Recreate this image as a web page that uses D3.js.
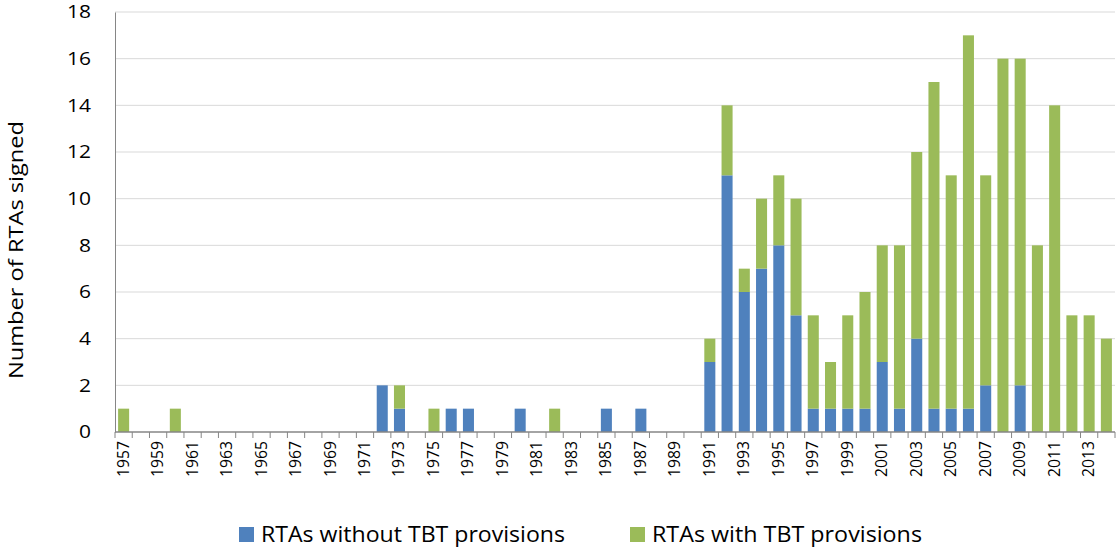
<!DOCTYPE html>
<html><head><meta charset="utf-8">
<script src="https://cdn.jsdelivr.net/npm/d3@7"></script>
<style>body{margin:0;background:#fff}svg{display:block}</style>
</head><body>
<svg id="c" width="1120" height="549"></svg>
<script>
const years = d3.range(1957, 2015).map(String);
const without = [0,0,0,0,0,0,0,0,0,0,0,0,0,0,0,2,1,0,0,1,1,0,0,1,0,0,0,0,1,0,1,0,0,0,
  3,11,6,7,8,5,1,1,1,1,3,1,4,1,1,1,2,0,2,0,0,0,0,0];
const withTBT = [1,0,0,1,0,0,0,0,0,0,0,0,0,0,0,0,1,0,1,0,0,0,0,0,0,1,0,0,0,0,0,0,0,0,
  1,3,1,3,3,5,4,2,4,5,5,7,8,14,10,16,9,16,14,8,14,5,5,4];
const seriesNames = ["RTAs without TBT provisions","RTAs with TBT provisions"];
const colors = ["#4F81BD","#9BBB59"];
const yTicks = [0,2,4,6,8,10,12,14,16,18];

const svg = d3.select("#c");
const font = "'Open Sans', sans-serif";
const L = 115, R = 1115, T = 12, B = 432;
const x = d3.scaleBand().domain(years).range([L, R]).paddingInner(0.36).paddingOuter(0.18);
const y = d3.scaleLinear().domain([0, 18]).range([B, T]);

// gridlines
svg.append("g").selectAll("line").data(yTicks.filter(d=>d>0)).join("line")
  .attr("x1", L).attr("x2", R).attr("y1", d=>y(d)).attr("y2", d=>y(d))
  .attr("stroke", "#d9d9d9").attr("stroke-width", 1);

const data = years.map((yr,i)=>({year:yr, a:without[i], b:withTBT[i]}));
const stack = d3.stack().keys(["a","b"])(data);
svg.append("g").selectAll("g").data(stack).join("g").attr("fill",(d,i)=>colors[i])
  .selectAll("rect").data(d=>d).join("rect")
  .attr("x", d=>x(d.data.year)).attr("width", x.bandwidth())
  .attr("y", d=>y(d[1])).attr("height", d=>y(d[0])-y(d[1]));

// y axis
const yAx = svg.append("g").attr("transform",`translate(${L},0)`)
  .call(d3.axisLeft(y).tickValues(yTicks).tickSize(0).tickPadding(24));
yAx.select(".domain").attr("stroke","#868686");
yAx.selectAll("text").attr("font-family",font).attr("font-size",18).attr("fill","#000")
  .attr("textLength",d=>String(d).length*12).attr("lengthAdjust","spacingAndGlyphs");

// x axis
const step = x.step();
const xAx = svg.append("g").attr("transform",`translate(0,${B})`);
xAx.append("line").attr("x1",L).attr("x2",R).attr("stroke","#868686").attr("stroke-width",1.5);
xAx.selectAll(".tk").data(d3.range(0, years.length+1)).join("line").attr("class","tk")
  .attr("x1", i=>L+i*step).attr("x2", i=>L+i*step).attr("y1",0).attr("y2",6)
  .attr("stroke","#868686");
xAx.selectAll("text").data(years.filter((d,i)=>i%2===0)).join("text")
  .attr("transform", d=>`translate(${x(d)+x.bandwidth()/2+5},9) rotate(-90)`)
  .attr("text-anchor","end").attr("font-family",font).attr("font-size",16).attr("fill","#000")
  .attr("textLength",36).attr("lengthAdjust","spacingAndGlyphs")
  .text(d=>d);

// y title
svg.append("text").attr("transform","translate(23,250) rotate(-90)")
  .attr("text-anchor","middle").attr("font-family",font).attr("font-size",20).attr("fill","#000")
  .attr("textLength",258).attr("lengthAdjust","spacingAndGlyphs")
  .text("Number of RTAs signed");

// legend
const legX = [239, 630];
const legW = [304, 270];
const lg = svg.append("g").selectAll("g").data(seriesNames).join("g")
  .attr("transform",(d,i)=>`translate(${legX[i]},527)`);
lg.append("rect").attr("width",15).attr("height",15).attr("fill",(d,i)=>colors[i]);
lg.append("text").attr("x",22).attr("y",15).attr("font-family",font).attr("font-size",21)
  .attr("fill","#000").attr("textLength",(d,i)=>legW[i]).attr("lengthAdjust","spacingAndGlyphs")
  .text(d=>d);
</script>
</body></html>
